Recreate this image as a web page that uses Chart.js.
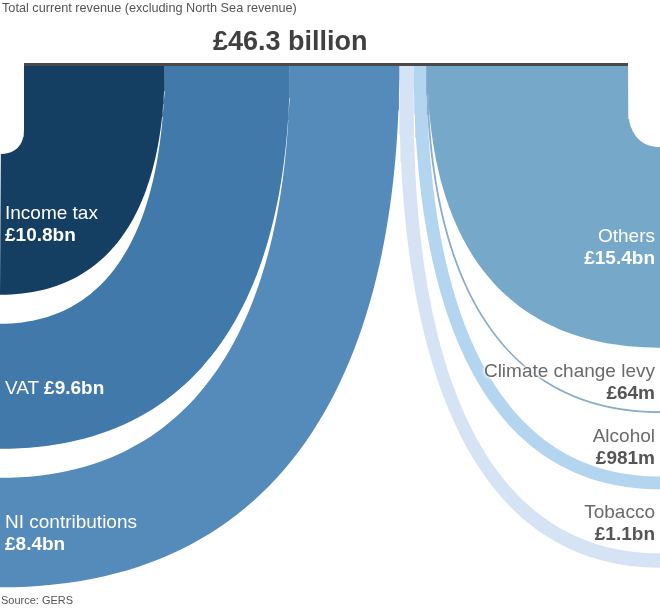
<!DOCTYPE html>
<html>
<head>
<meta charset="utf-8">
<title>Total current revenue</title>
<script src="https://cdn.jsdelivr.net/npm/chart.js@4.4.1/dist/chart.umd.min.js"></script>
<style>
  html, body { margin: 0; padding: 0; background: #fff; }
  #wrap {
    position: relative; width: 660px; height: 609px; overflow: hidden;
    font-family: "Liberation Sans", Arial, Helvetica, sans-serif;
  }
  #wrap canvas { position: absolute; left: 0; top: 0; }
  #subtitle { position: absolute; left: 2px; top: 1px; font-size: 12.7px; color: #555; white-space: nowrap; }
  #total { position: absolute; left: 213px; top: 26px; font-size: 27px; font-weight: bold; color: #404040; white-space: nowrap; }
  #source { position: absolute; left: 1px; top: 594px; font-size: 11px; color: #555; white-space: nowrap; }
  .lbl { position: absolute; white-space: nowrap; font-size: 19px; line-height: 22px; }
  .lbl b { font-weight: bold; }
  .inside { color: #fff; }
  .outside { color: #6a6a6a; text-shadow: 0 0 2px #fff, 0 0 3px #fff, 0 0 4px #fff, 0 0 4px #fff; }
  .outside b { color: #555; }
</style>
</head>
<body>
<div id="wrap">
  <canvas id="chart" width="660" height="609"></canvas>
  <div id="subtitle">Total current revenue (excluding North Sea revenue)</div>
  <div id="total">£46.3 billion</div>
  <div id="source">Source: GERS</div>
</div>
<script>
// values in £bn, read from the graphic
const leftNames = ['Income tax', 'VAT', 'NI contributions'];
const leftValues = [10.8, 9.6, 8.4];
const leftText = ['£10.8bn', '£9.6bn', '£8.4bn'];
const rightNames = ['Others', 'Climate change levy', 'Alcohol', 'Tobacco'];
const rightValues = [15.4, 0.064, 0.981, 1.1];
const rightText = ['£15.4bn', '£64m', '£981m', '£1.1bn'];

const leftColors = ['#143f63', '#4079aa', '#548bbb'];
const rightColors = ['#76a8c9', '#86a9c8', '#b4d5f0', '#d5e3f5'];

// layout (chart units = canvas pixels)
const W = 660, H = 609;
const FLOW_TOP = 64;
const BAR_LEFT = 24, BAR_RIGHT = 628;
const LEFT_FIRST_EXIT = 154, LEFT_GAP = 29;
const RIGHT_FIRST_EXIT = 147, RIGHT_GAP = 64;
const BEND_RATIO = 1.9, BEND_TRIM = 20; // how far up a bend may start
const K1 = 0.6, K2 = 0.7;               // bezier handle lengths
const STEPS = 60;

const allValues = leftValues.concat(rightValues);
const pxPerBn = (BAR_RIGHT - BAR_LEFT) / allValues.reduce((a, b) => a + b, 0);

// ============================================
// One edge of a ribbon: down from the bar, bending out to the side
// ============================================
function edge(side, d, exitY) {
    const sx = side === 'left' ? 0 : W;
    const dir = side === 'left' ? 1 : -1;
    const x0 = sx + dir * d;
    const bend = Math.min(exitY - FLOW_TOP, Math.max(1, BEND_RATIO * d - BEND_TRIM));
    const y0 = exitY - bend;
    const p1 = {x: x0, y: y0 + K1 * bend};
    const p2 = {x: sx + dir * K2 * d, y: exitY};
    const p3 = {x: sx, y: exitY};
    const pts = [{x: x0, y: FLOW_TOP}];
    for (let i = 0; i <= STEPS; i++) {
        const t = i / STEPS, u = 1 - t;
        const a = u * u * u, b = 3 * u * u * t, c = 3 * u * t * t, e = t * t * t;
        pts.push({
            x: a * x0 + b * p1.x + c * p2.x + e * p3.x,
            y: a * y0 + b * p1.y + c * p2.y + e * p3.y
        });
    }
    return pts;
}

function ribbon(side, near, far, exitTop, exitBottom) {
    return edge(side, near, exitTop).concat(edge(side, far, exitBottom).reverse());
}

const flows = [];

// left side: stacked from the left end of the bar
let cursor = BAR_LEFT;
let exitTop = LEFT_FIRST_EXIT;
leftValues.forEach((v, i) => {
    const w = v * pxPerBn;
    flows.push({side: 'left', name: leftNames[i], text: leftText[i], color: leftColors[i],
        pts: ribbon('left', cursor, cursor + w, exitTop, exitTop + w),
        exitTop: exitTop, exitBottom: exitTop + w});
    cursor += w;
    exitTop += w + LEFT_GAP;
});

// right side: stacked from the right end of the bar
cursor = W - BAR_RIGHT;
exitTop = RIGHT_FIRST_EXIT;
rightValues.forEach((v, i) => {
    const w = v * pxPerBn;
    flows.push({side: 'right', name: rightNames[i], text: rightText[i], color: rightColors[i],
        pts: ribbon('right', cursor, cursor + w, exitTop, exitTop + w),
        exitTop: exitTop, exitBottom: exitTop + w});
    cursor += w;
    exitTop += w + RIGHT_GAP;
});

const datasets = [{
    label: 'Total',
    data: [{x: BAR_LEFT, y: FLOW_TOP + 0.5}, {x: BAR_RIGHT, y: FLOW_TOP + 0.5}],
    showLine: true,
    fill: false,
    borderColor: '#4a4a4a',
    borderWidth: 3
}];
flows.forEach(f => {
    const thin = (f.exitBottom - f.exitTop) < 2;
    datasets.push({
        label: f.name,
        data: f.pts,
        showLine: true,
        fill: 'shape',
        backgroundColor: f.color,
        borderColor: thin ? f.color : 'rgba(0,0,0,0)',
        borderWidth: thin ? 0.9 : 0.01
    });
});

const chart = new Chart(document.getElementById('chart'), {
    type: 'scatter',
    data: {datasets: datasets},
    options: {
        responsive: false,
        animation: false,
        events: [],
        layout: {padding: 0},
        elements: {point: {radius: 0, hoverRadius: 0}, line: {tension: 0}},
        plugins: {legend: {display: false}, tooltip: {enabled: false}},
        scales: {
            x: {type: 'linear', min: 0, max: W, display: false},
            y: {type: 'linear', min: 0, max: H, reverse: true, display: false}
        }
    }
});

// ============================================
// Labels, placed from the flow exits through the chart scales
// ============================================
const wrap = document.getElementById('wrap');
const LINE = 22;
function addLabel(html, cls, side, yTop) {
    const d = document.createElement('div');
    d.className = 'lbl ' + cls;
    d.innerHTML = html;
    d.style.top = Math.round(yTop) + 'px';
    if (side === 'left') {
        d.style.left = '5px';
    } else {
        d.style.right = '5px';
        d.style.textAlign = 'right';
    }
    wrap.appendChild(d);
}
flows.forEach(f => {
    const yTop = chart.scales.y.getPixelForValue(f.exitTop);
    const yBot = chart.scales.y.getPixelForValue(f.exitBottom);
    const mid = (yTop + yBot) / 2;
    const band = yBot - yTop;
    if (f.name === 'VAT') {
        addLabel(f.name + ' <b>' + f.text + '</b>', 'inside', f.side, mid - LINE / 2 + 2);
    } else if (band > 60) {
        addLabel(f.name + '<br><b>' + f.text + '</b>', 'inside', f.side, mid - LINE);
    } else {
        addLabel(f.name + '<br><b>' + f.text + '</b>', 'outside', f.side, yTop - 19 - LINE * 1.5);
    }
});
</script>
</body>
</html>
